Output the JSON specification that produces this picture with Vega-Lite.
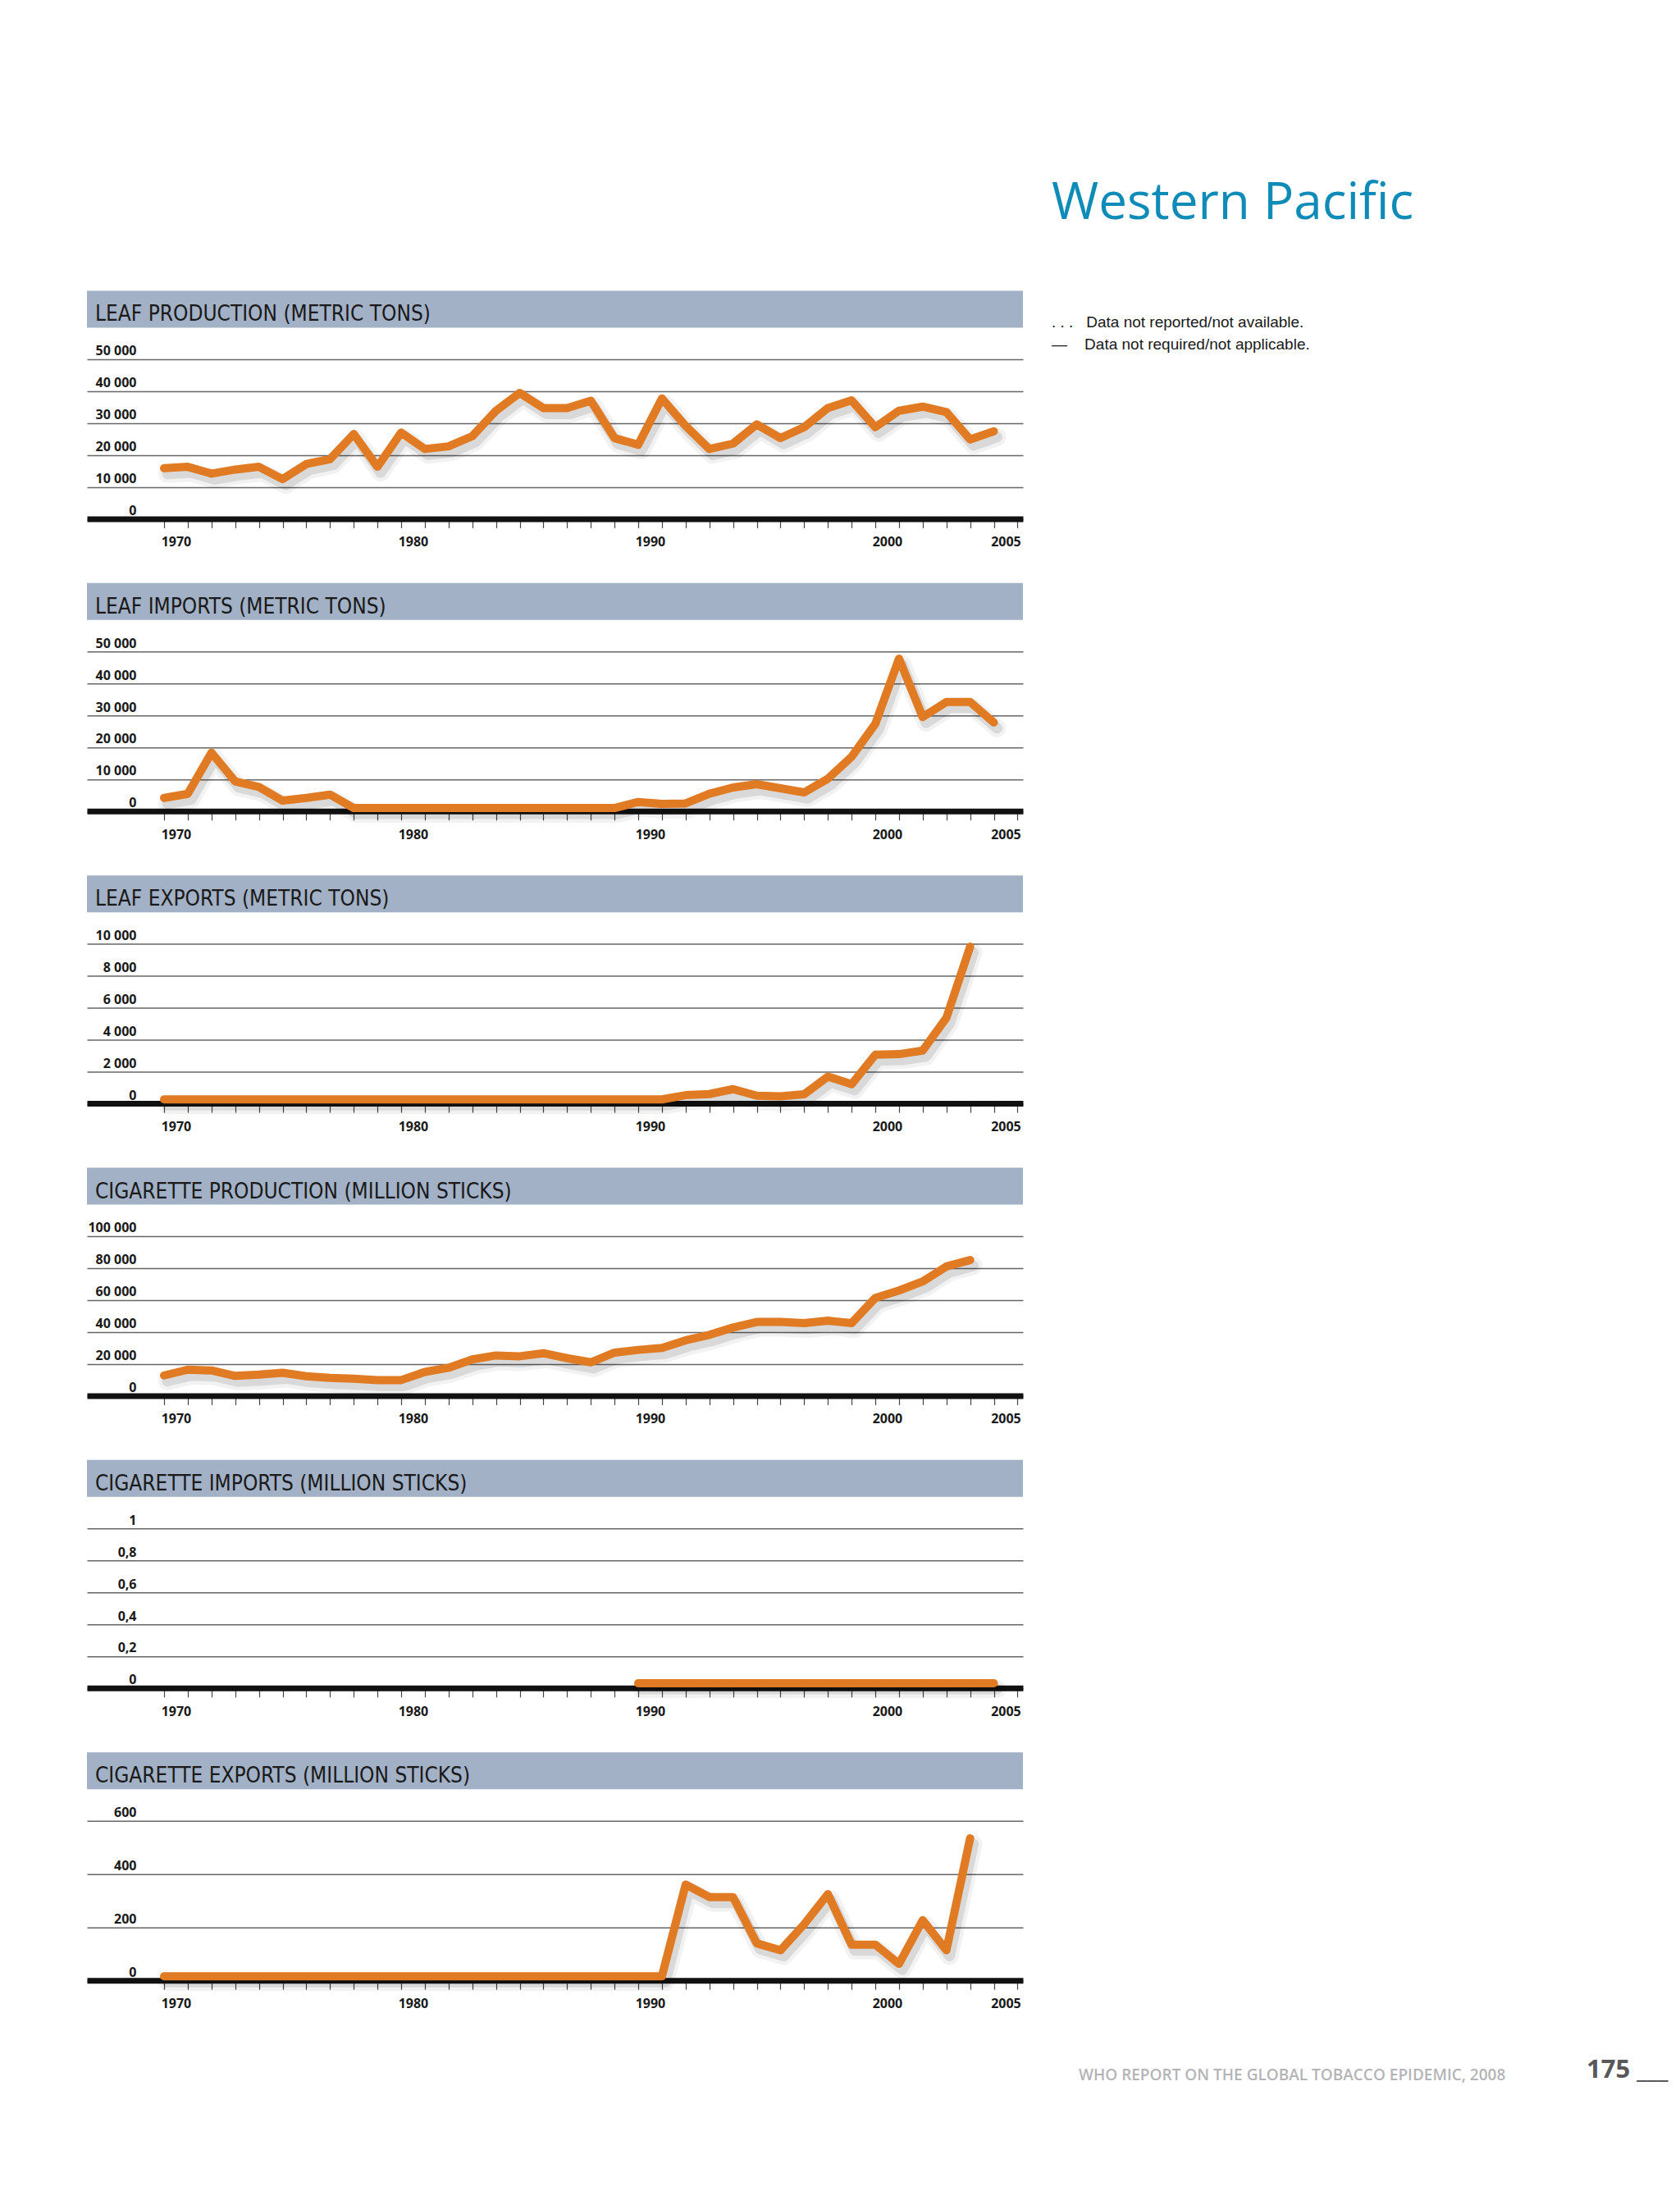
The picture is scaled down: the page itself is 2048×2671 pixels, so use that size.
{
  "$schema": "https://vega.github.io/schema/vega-lite/v6.json",
  "padding": {"left": 106, "top": 0, "right": 0, "bottom": 0},
  "background": "white",
  "bounds": "flush",
  "spacing": 38.45,
  "config": {
    "view": {"stroke": null},
    "title": {"font": "DejaVu Sans Condensed, Liberation Sans, sans-serif", "fontSize": 26, "fontWeight": "normal", "color": "#1a1a1a", "anchor": "start", "frame": "group", "dx": 10, "offset": -42},
    "axisX": {"grid": false, "domainColor": "#111111", "domainWidth": 7, "tickColor": "#444444", "tickWidth": 1.2, "tickSize": 11, "labelFont": "Open Sans", "labelFontWeight": "bold", "labelFontSize": 16, "labelColor": "#1a1a1a", "labelOffset": 14.45, "labelPadding": 22.5, "labelBaseline": "alphabetic", "labelOverlap": false, "labelFlush": false},
    "axisY": {"grid": true, "gridColor": "#666666", "gridWidth": 1.5, "domain": false, "ticks": false, "tickSize": 0, "labelAlign": "right", "labelPadding": -60, "labelBaseline": "alphabetic", "labelOffset": -5, "labelFont": "Open Sans", "labelFontWeight": "bold", "labelFontSize": 16, "labelColor": "#1a1a1a"}
  },
  "datasets": {
    "lp": [
      {"year": 1970, "v": 15850}, {"year": 1971, "v": 16280}, {"year": 1972, "v": 14140}, {"year": 1973, "v": 15420},
      {"year": 1974, "v": 16280}, {"year": 1975, "v": 12420}, {"year": 1976, "v": 17140}, {"year": 1977, "v": 18680},
      {"year": 1978, "v": 26560}, {"year": 1979, "v": 16280}, {"year": 1980, "v": 27000}, {"year": 1981, "v": 21850},
      {"year": 1982, "v": 22700}, {"year": 1983, "v": 25880}, {"year": 1984, "v": 33850}, {"year": 1985, "v": 39420},
      {"year": 1986, "v": 34700}, {"year": 1987, "v": 34700}, {"year": 1988, "v": 37000}, {"year": 1989, "v": 25280},
      {"year": 1990, "v": 23200}, {"year": 1991, "v": 37700}, {"year": 1992, "v": 29100}, {"year": 1993, "v": 21850},
      {"year": 1994, "v": 23560}, {"year": 1995, "v": 29560}, {"year": 1996, "v": 25280}, {"year": 1997, "v": 28700},
      {"year": 1998, "v": 34700}, {"year": 1999, "v": 37100}, {"year": 2000, "v": 28700}, {"year": 2001, "v": 33850},
      {"year": 2002, "v": 35130}, {"year": 2003, "v": 33420}, {"year": 2004, "v": 24850}, {"year": 2005, "v": 27420}
    ],
    "li": [
      {"year": 1970, "v": 4120}, {"year": 1971, "v": 5410}, {"year": 1972, "v": 18300}, {"year": 1973, "v": 9280},
      {"year": 1974, "v": 7560}, {"year": 1975, "v": 3260}, {"year": 1976, "v": 4120}, {"year": 1977, "v": 5150},
      {"year": 1978, "v": 950}, {"year": 1979, "v": 950}, {"year": 1980, "v": 950}, {"year": 1981, "v": 950},
      {"year": 1982, "v": 950}, {"year": 1983, "v": 950}, {"year": 1984, "v": 950}, {"year": 1985, "v": 950},
      {"year": 1986, "v": 950}, {"year": 1987, "v": 950}, {"year": 1988, "v": 950}, {"year": 1989, "v": 950},
      {"year": 1990, "v": 2840}, {"year": 1991, "v": 2230}, {"year": 1992, "v": 2400}, {"year": 1993, "v": 5410},
      {"year": 1994, "v": 7390}, {"year": 1995, "v": 8420}, {"year": 1996, "v": 7130}, {"year": 1997, "v": 5840},
      {"year": 1998, "v": 10140}, {"year": 1999, "v": 17010}, {"year": 2000, "v": 27320}, {"year": 2001, "v": 47770},
      {"year": 2002, "v": 29470}, {"year": 2003, "v": 34190}, {"year": 2004, "v": 34190}, {"year": 2005, "v": 27750}
    ],
    "le": [
      {"year": 1970, "v": 250}, {"year": 1971, "v": 250}, {"year": 1972, "v": 250}, {"year": 1973, "v": 250},
      {"year": 1974, "v": 250}, {"year": 1975, "v": 250}, {"year": 1976, "v": 250}, {"year": 1977, "v": 250},
      {"year": 1978, "v": 250}, {"year": 1979, "v": 250}, {"year": 1980, "v": 250}, {"year": 1981, "v": 250},
      {"year": 1982, "v": 250}, {"year": 1983, "v": 250}, {"year": 1984, "v": 250}, {"year": 1985, "v": 250},
      {"year": 1986, "v": 250}, {"year": 1987, "v": 250}, {"year": 1988, "v": 250}, {"year": 1989, "v": 250},
      {"year": 1990, "v": 250}, {"year": 1991, "v": 250}, {"year": 1992, "v": 514}, {"year": 1993, "v": 583},
      {"year": 1994, "v": 891}, {"year": 1995, "v": 480}, {"year": 1996, "v": 445}, {"year": 1997, "v": 566},
      {"year": 1998, "v": 1680}, {"year": 1999, "v": 1200}, {"year": 2000, "v": 3050}, {"year": 2001, "v": 3085},
      {"year": 2002, "v": 3308}, {"year": 2003, "v": 5365}, {"year": 2004, "v": 9820}
    ],
    "cp": [
      {"year": 1970, "v": 12700}, {"year": 1971, "v": 16300}, {"year": 1972, "v": 15800}, {"year": 1973, "v": 12400},
      {"year": 1974, "v": 13200}, {"year": 1975, "v": 14400}, {"year": 1976, "v": 12200}, {"year": 1977, "v": 11200},
      {"year": 1978, "v": 10600}, {"year": 1979, "v": 9800}, {"year": 1980, "v": 9800}, {"year": 1981, "v": 14900},
      {"year": 1982, "v": 17500}, {"year": 1983, "v": 22700}, {"year": 1984, "v": 25200}, {"year": 1985, "v": 24700},
      {"year": 1986, "v": 26600}, {"year": 1987, "v": 23500}, {"year": 1988, "v": 20900}, {"year": 1989, "v": 27000},
      {"year": 1990, "v": 28700}, {"year": 1991, "v": 29900}, {"year": 1992, "v": 34700}, {"year": 1993, "v": 38100},
      {"year": 1994, "v": 42700}, {"year": 1995, "v": 46200}, {"year": 1996, "v": 46200}, {"year": 1997, "v": 45500},
      {"year": 1998, "v": 47000}, {"year": 1999, "v": 45500}, {"year": 2000, "v": 61300}, {"year": 2001, "v": 65900},
      {"year": 2002, "v": 71600}, {"year": 2003, "v": 81000}, {"year": 2004, "v": 85000}
    ],
    "ci": [
      {"year": 1990, "v": 0.03}, {"year": 1991, "v": 0.03}, {"year": 1992, "v": 0.03}, {"year": 1993, "v": 0.03},
      {"year": 1994, "v": 0.03}, {"year": 1995, "v": 0.03}, {"year": 1996, "v": 0.03}, {"year": 1997, "v": 0.03},
      {"year": 1998, "v": 0.03}, {"year": 1999, "v": 0.03}, {"year": 2000, "v": 0.03}, {"year": 2001, "v": 0.03},
      {"year": 2002, "v": 0.03}, {"year": 2003, "v": 0.03}, {"year": 2004, "v": 0.03}, {"year": 2005, "v": 0.03}
    ],
    "ce": [
      {"year": 1970, "v": 15}, {"year": 1971, "v": 15}, {"year": 1972, "v": 15}, {"year": 1973, "v": 15},
      {"year": 1974, "v": 15}, {"year": 1975, "v": 15}, {"year": 1976, "v": 15}, {"year": 1977, "v": 15},
      {"year": 1978, "v": 15}, {"year": 1979, "v": 15}, {"year": 1980, "v": 15}, {"year": 1981, "v": 15},
      {"year": 1982, "v": 15}, {"year": 1983, "v": 15}, {"year": 1984, "v": 15}, {"year": 1985, "v": 15},
      {"year": 1986, "v": 15}, {"year": 1987, "v": 15}, {"year": 1988, "v": 15}, {"year": 1989, "v": 15},
      {"year": 1990, "v": 15}, {"year": 1991, "v": 15}, {"year": 1992, "v": 360}, {"year": 1993, "v": 313},
      {"year": 1994, "v": 313}, {"year": 1995, "v": 139}, {"year": 1996, "v": 113}, {"year": 1997, "v": 211},
      {"year": 1998, "v": 324}, {"year": 1999, "v": 134}, {"year": 2000, "v": 134}, {"year": 2001, "v": 62},
      {"year": 2002, "v": 226}, {"year": 2003, "v": 113}, {"year": 2004, "v": 534}
    ]
  },
  "vconcat": [
    {
      "width": 1141, "height": 316, "data": {"values": []}, "mark": "text",
      "title": {
        "text": "Western Pacific",
        "subtitle": [". . .\u00a0\u00a0\u00a0Data not reported/not available.", "\u2014\u00a0\u00a0\u00a0\u00a0Data not required/not applicable."],
        "font": "Open Sans", "fontSize": 62, "fontWeight": "normal", "color": "#0f8bb8",
        "dx": 1176, "offset": -431,
        "subtitleFont": "Liberation Sans", "subtitleFontSize": 19, "subtitleColor": "#1a1a1a",
        "subtitlePadding": 104, "subtitleLineHeight": 27
      }
    },
    {"width": 1141, "height": 45, "data": {"values": []}, "mark": "text", "view": {"fill": "#a2b1c5", "stroke": null}, "title": "LEAF PRODUCTION (METRIC TONS)"},
    {
      "width": 1141, "height": 194.5, "data": {"name": "lp"},
      "encoding": {
        "x": {"field": "year", "type": "quantitative", "scale": {"domain": [1966.747, 2006.228], "nice": false, "zero": false},
              "axis": {"title": null, "values": [1970,1971,1972,1973,1974,1975,1976,1977,1978,1979,1980,1981,1982,1983,1984,1985,1986,1987,1988,1989,1990,1991,1992,1993,1994,1995,1996,1997,1998,1999,2000,2001,2002,2003,2004,2005,2006],
                       "labelExpr": "indexof([1970,1980,1990,2000,2005], datum.value) >= 0 ? format(datum.value, 'd') : ''"}},
        "y": {"field": "v", "type": "quantitative", "scale": {"domain": [0, 50000], "nice": false},
              "axis": {"title": null, "values": [0, 10000, 20000, 30000, 40000, 50000], "labelExpr": "replace(format(datum.value, ','), ',', ' ')"}}
      },
      "layer": [
        {"mark": {"type": "line", "color": "#000000", "opacity": 0.05, "strokeWidth": 22, "strokeCap": "round", "strokeJoin": "round", "xOffset": 4, "yOffset": 7}},
        {"mark": {"type": "line", "color": "#000000", "opacity": 0.1, "strokeWidth": 13, "strokeCap": "round", "strokeJoin": "round", "xOffset": 4, "yOffset": 7}},
        {"mark": {"type": "line", "color": "#e07b24", "strokeWidth": 10, "strokeCap": "round", "strokeJoin": "round"}}
      ]
    },
    {"width": 1141, "height": 0.01, "data": {"values": []}, "mark": "text"},
    {"width": 1141, "height": 45, "data": {"values": []}, "mark": "text", "view": {"fill": "#a2b1c5", "stroke": null}, "title": "LEAF IMPORTS (METRIC TONS)"},
    {
      "width": 1141, "height": 194.5, "data": {"name": "li"},
      "encoding": {
        "x": {"field": "year", "type": "quantitative", "scale": {"domain": [1966.747, 2006.228], "nice": false, "zero": false},
              "axis": {"title": null, "values": [1970,1971,1972,1973,1974,1975,1976,1977,1978,1979,1980,1981,1982,1983,1984,1985,1986,1987,1988,1989,1990,1991,1992,1993,1994,1995,1996,1997,1998,1999,2000,2001,2002,2003,2004,2005,2006],
                       "labelExpr": "indexof([1970,1980,1990,2000,2005], datum.value) >= 0 ? format(datum.value, 'd') : ''"}},
        "y": {"field": "v", "type": "quantitative", "scale": {"domain": [0, 50000], "nice": false},
              "axis": {"title": null, "values": [0, 10000, 20000, 30000, 40000, 50000], "labelExpr": "replace(format(datum.value, ','), ',', ' ')"}}
      },
      "layer": [
        {"mark": {"type": "line", "color": "#000000", "opacity": 0.05, "strokeWidth": 22, "strokeCap": "round", "strokeJoin": "round", "xOffset": 4, "yOffset": 7}},
        {"mark": {"type": "line", "color": "#000000", "opacity": 0.1, "strokeWidth": 13, "strokeCap": "round", "strokeJoin": "round", "xOffset": 4, "yOffset": 7}},
        {"mark": {"type": "line", "color": "#e07b24", "strokeWidth": 10, "strokeCap": "round", "strokeJoin": "round"}}
      ]
    },
    {"width": 1141, "height": 0.01, "data": {"values": []}, "mark": "text"},
    {"width": 1141, "height": 45, "data": {"values": []}, "mark": "text", "view": {"fill": "#a2b1c5", "stroke": null}, "title": "LEAF EXPORTS (METRIC TONS)"},
    {
      "width": 1141, "height": 194.5, "data": {"name": "le"},
      "encoding": {
        "x": {"field": "year", "type": "quantitative", "scale": {"domain": [1966.747, 2006.228], "nice": false, "zero": false},
              "axis": {"title": null, "values": [1970,1971,1972,1973,1974,1975,1976,1977,1978,1979,1980,1981,1982,1983,1984,1985,1986,1987,1988,1989,1990,1991,1992,1993,1994,1995,1996,1997,1998,1999,2000,2001,2002,2003,2004,2005,2006],
                       "labelExpr": "indexof([1970,1980,1990,2000,2005], datum.value) >= 0 ? format(datum.value, 'd') : ''"}},
        "y": {"field": "v", "type": "quantitative", "scale": {"domain": [0, 10000], "nice": false},
              "axis": {"title": null, "values": [0, 2000, 4000, 6000, 8000, 10000], "labelExpr": "replace(format(datum.value, ','), ',', ' ')"}}
      },
      "layer": [
        {"mark": {"type": "line", "color": "#000000", "opacity": 0.05, "strokeWidth": 22, "strokeCap": "round", "strokeJoin": "round", "xOffset": 4, "yOffset": 7}},
        {"mark": {"type": "line", "color": "#000000", "opacity": 0.1, "strokeWidth": 13, "strokeCap": "round", "strokeJoin": "round", "xOffset": 4, "yOffset": 7}},
        {"mark": {"type": "line", "color": "#e07b24", "strokeWidth": 10, "strokeCap": "round", "strokeJoin": "round"}}
      ]
    },
    {"width": 1141, "height": 0.01, "data": {"values": []}, "mark": "text"},
    {"width": 1141, "height": 45, "data": {"values": []}, "mark": "text", "view": {"fill": "#a2b1c5", "stroke": null}, "title": "CIGARETTE PRODUCTION (MILLION STICKS)"},
    {
      "width": 1141, "height": 194.5, "data": {"name": "cp"},
      "encoding": {
        "x": {"field": "year", "type": "quantitative", "scale": {"domain": [1966.747, 2006.228], "nice": false, "zero": false},
              "axis": {"title": null, "values": [1970,1971,1972,1973,1974,1975,1976,1977,1978,1979,1980,1981,1982,1983,1984,1985,1986,1987,1988,1989,1990,1991,1992,1993,1994,1995,1996,1997,1998,1999,2000,2001,2002,2003,2004,2005,2006],
                       "labelExpr": "indexof([1970,1980,1990,2000,2005], datum.value) >= 0 ? format(datum.value, 'd') : ''"}},
        "y": {"field": "v", "type": "quantitative", "scale": {"domain": [0, 100000], "nice": false},
              "axis": {"title": null, "values": [0, 20000, 40000, 60000, 80000, 100000], "labelExpr": "replace(format(datum.value, ','), ',', ' ')"}}
      },
      "layer": [
        {"mark": {"type": "line", "color": "#000000", "opacity": 0.05, "strokeWidth": 22, "strokeCap": "round", "strokeJoin": "round", "xOffset": 4, "yOffset": 7}},
        {"mark": {"type": "line", "color": "#000000", "opacity": 0.1, "strokeWidth": 13, "strokeCap": "round", "strokeJoin": "round", "xOffset": 4, "yOffset": 7}},
        {"mark": {"type": "line", "color": "#e07b24", "strokeWidth": 10, "strokeCap": "round", "strokeJoin": "round"}}
      ]
    },
    {"width": 1141, "height": 0.01, "data": {"values": []}, "mark": "text"},
    {"width": 1141, "height": 45, "data": {"values": []}, "mark": "text", "view": {"fill": "#a2b1c5", "stroke": null}, "title": "CIGARETTE IMPORTS (MILLION STICKS)"},
    {
      "width": 1141, "height": 194.5, "data": {"name": "ci"},
      "encoding": {
        "x": {"field": "year", "type": "quantitative", "scale": {"domain": [1966.747, 2006.228], "nice": false, "zero": false},
              "axis": {"title": null, "values": [1970,1971,1972,1973,1974,1975,1976,1977,1978,1979,1980,1981,1982,1983,1984,1985,1986,1987,1988,1989,1990,1991,1992,1993,1994,1995,1996,1997,1998,1999,2000,2001,2002,2003,2004,2005,2006],
                       "labelExpr": "indexof([1970,1980,1990,2000,2005], datum.value) >= 0 ? format(datum.value, 'd') : ''"}},
        "y": {"field": "v", "type": "quantitative", "scale": {"domain": [0, 1], "nice": false},
              "axis": {"title": null, "values": [0, 0.2, 0.4, 0.6, 0.8, 1], "labelExpr": "datum.value == 0 ? '0' : datum.value == 1 ? '1' : replace(format(datum.value, '.1f'), '.', ',')"}}
      },
      "layer": [
        {"mark": {"type": "line", "color": "#000000", "opacity": 0.05, "strokeWidth": 22, "strokeCap": "round", "strokeJoin": "round", "xOffset": 4, "yOffset": 7}},
        {"mark": {"type": "line", "color": "#000000", "opacity": 0.1, "strokeWidth": 13, "strokeCap": "round", "strokeJoin": "round", "xOffset": 4, "yOffset": 7}},
        {"mark": {"type": "line", "color": "#e07b24", "strokeWidth": 10, "strokeCap": "round", "strokeJoin": "round"}}
      ]
    },
    {"width": 1141, "height": 0.01, "data": {"values": []}, "mark": "text"},
    {"width": 1141, "height": 45, "data": {"values": []}, "mark": "text", "view": {"fill": "#a2b1c5", "stroke": null}, "title": "CIGARETTE EXPORTS (MILLION STICKS)"},
    {
      "width": 1141, "height": 194.5, "data": {"name": "ce"},
      "encoding": {
        "x": {"field": "year", "type": "quantitative", "scale": {"domain": [1966.747, 2006.228], "nice": false, "zero": false},
              "axis": {"title": null, "values": [1970,1971,1972,1973,1974,1975,1976,1977,1978,1979,1980,1981,1982,1983,1984,1985,1986,1987,1988,1989,1990,1991,1992,1993,1994,1995,1996,1997,1998,1999,2000,2001,2002,2003,2004,2005,2006],
                       "labelExpr": "indexof([1970,1980,1990,2000,2005], datum.value) >= 0 ? format(datum.value, 'd') : ''"}},
        "y": {"field": "v", "type": "quantitative", "scale": {"domain": [0, 600], "nice": false},
              "axis": {"title": null, "values": [0, 200, 400, 600], "labelExpr": "format(datum.value, 'd')"}}
      },
      "layer": [
        {"mark": {"type": "line", "color": "#000000", "opacity": 0.05, "strokeWidth": 22, "strokeCap": "round", "strokeJoin": "round", "xOffset": 4, "yOffset": 7}},
        {"mark": {"type": "line", "color": "#000000", "opacity": 0.1, "strokeWidth": 13, "strokeCap": "round", "strokeJoin": "round", "xOffset": 4, "yOffset": 7}},
        {"mark": {"type": "line", "color": "#e07b24", "strokeWidth": 10, "strokeCap": "round", "strokeJoin": "round"}}
      ]
    },
    {
      "width": 1141, "height": 0.01, "data": {"values": []}, "mark": "text",
      "title": {"text": "WHO REPORT ON THE GLOBAL TOBACCO EPIDEMIC, 2008", "orient": "bottom", "dx": 1209, "offset": 68, "font": "Open Sans", "fontSize": 19, "fontWeight": 600, "color": "#b4b4b7"}
    },
    {
      "width": 1141, "height": 0.01, "data": {"values": []}, "mark": "text",
      "title": {"text": "175\u00a0___", "orient": "bottom", "dx": 1828, "offset": 16, "font": "Open Sans", "fontSize": 31, "fontWeight": "bold", "color": "#58585a"}
    }
  ]
}
